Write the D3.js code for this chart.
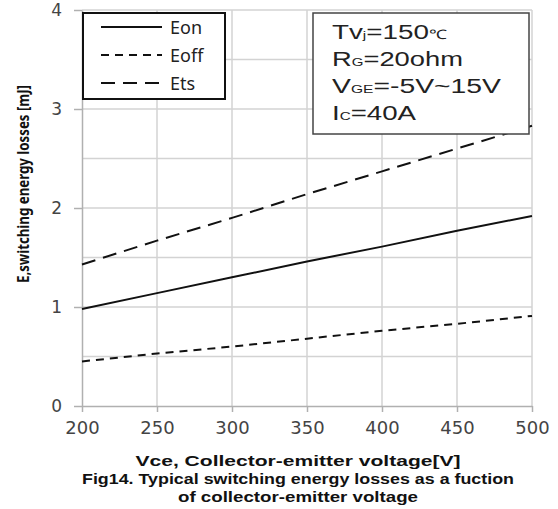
<!DOCTYPE html>
<html>
<head>
<meta charset="utf-8">
<script src="https://cdn.jsdelivr.net/npm/d3@7"></script>
<style>
  html, body { margin: 0; padding: 0; background: #fff; }
  svg { display: block; }
</style>
</head>
<body>
<svg id="chart" width="558" height="509"></svg>
<script>
// Collector-emitter voltage [V]
const voltages = [200, 250, 300, 350, 400, 450, 500];
// Switching energy losses [mJ]
const eon  = [0.98, 1.14, 1.30, 1.46, 1.61, 1.77, 1.92];
const eoff = [0.45, 0.53, 0.60, 0.68, 0.76, 0.83, 0.91];
const ets  = [1.43, 1.67, 1.90, 2.14, 2.37, 2.60, 2.83];

const xTicks = [200, 250, 300, 350, 400, 450, 500];
const yTicks = [0, 1, 2, 3, 4];
const yGrid  = [0.5, 1, 1.5, 2, 2.5, 3, 3.5, 4];

const seriesNames = ["Eon", "Eoff", "Ets"];
const seriesValues = [eon, eoff, ets];
const dashes = [null, "8,6", "14,8"];

const svg = d3.select("#chart");

const x = d3.scaleLinear().domain([200, 500]).range([82, 532]);
const y = d3.scaleLinear().domain([0, 4]).range([406, 10]);

// grid
const grid = svg.append("g").attr("stroke", "#d3d3d3").attr("stroke-width", 1.5);
grid.selectAll("line.v").data(xTicks.slice(1)).join("line")
  .attr("class", "v")
  .attr("x1", d => x(d)).attr("x2", d => x(d))
  .attr("y1", y(0)).attr("y2", y(4));
grid.selectAll("line.h").data(yGrid).join("line")
  .attr("class", "h")
  .attr("x1", x(200)).attr("x2", x(500))
  .attr("y1", d => y(d)).attr("y2", d => y(d));

// axes
const xAxis = svg.append("g")
  .attr("transform", `translate(0,${y(0)})`)
  .call(d3.axisBottom(x).tickValues(xTicks).tickFormat(d3.format("d"))
    .tickSize(6).tickSizeOuter(0).tickPadding(7));
const yAxis = svg.append("g")
  .attr("transform", `translate(${x(200)},0)`)
  .call(d3.axisLeft(y).tickValues(yTicks).tickFormat(d3.format("d"))
    .tickSize(8).tickSizeOuter(0).tickPadding(12));

[xAxis, yAxis].forEach(ax => {
  ax.select(".domain").attr("stroke", "#b0b0b0").attr("stroke-width", 1.5);
  ax.selectAll(".tick line").attr("stroke", "#b0b0b0").attr("stroke-width", 1.5);
  ax.selectAll(".tick text")
    .attr("fill", "#444")
    .attr("font-family", "DejaVu Sans, sans-serif")
    .attr("font-size", 18);
});
xAxis.selectAll(".tick text").attr("dy", "0.85em");
yAxis.selectAll(".tick text").attr("font-size", 17);

// curves
const line = d3.line()
  .x((d, i) => x(voltages[i]))
  .y(d => y(d));

svg.append("g").selectAll("path").data(seriesValues).join("path")
  .attr("d", d => line(d))
  .attr("fill", "none")
  .attr("stroke", "#111")
  .attr("stroke-width", 2)
  .attr("stroke-dasharray", (d, i) => dashes[i]);

// legend
const legend = svg.append("g");
legend.append("rect")
  .attr("x", 83).attr("y", 13).attr("width", 142).attr("height", 86)
  .attr("fill", "#fff").attr("stroke", "#111").attr("stroke-width", 2);
const items = legend.selectAll("g.item").data(seriesNames).join("g")
  .attr("class", "item")
  .attr("transform", (d, i) => `translate(0,${27 + i * 28})`);
items.append("line")
  .attr("x1", 101).attr("x2", 162).attr("y1", 0).attr("y2", 0)
  .attr("stroke", "#111").attr("stroke-width", 2)
  .attr("stroke-dasharray", (d, i) => dashes[i]);
items.append("text")
  .attr("x", 170).attr("y", 6.5)
  .attr("font-family", "Noto Sans, sans-serif")
  .attr("font-size", 18)
  .attr("fill", "#222")
  .text(d => d);

// condition box
const cond = svg.append("g");
cond.append("rect")
  .attr("x", 313).attr("y", 13).attr("width", 216).attr("height", 121)
  .attr("fill", "#fff").attr("stroke", "#444").attr("stroke-width", 1.5);

const condLines = [
  { parts: [["Tv", 0], ["j", 1], ["=150", 0], ["℃", 2]], width: 115, base: 39 },
  { parts: [["R", 0], ["G", 1], ["=20ohm", 0]], width: 131, base: 66 },
  { parts: [["V", 0], ["GE", 1], ["=-5V~15V", 0]], width: 169, base: 93 },
  { parts: [["I", 0], ["C", 1], ["=40A", 0]], width: 84, base: 120 }
];
condLines.forEach(l => {
  const t = cond.append("text")
    .attr("x", 332).attr("y", l.base)
    .attr("font-family", "Liberation Sans, Arial, sans-serif")
    .attr("font-size", 20)
    .attr("fill", "#222")
    .attr("textLength", l.width)
    .attr("lengthAdjust", "spacingAndGlyphs");
  l.parts.forEach(([s, k]) => {
    const ts = t.append("tspan").text(s);
    if (k === 1) ts.attr("font-size", 11);
    if (k === 2) ts.attr("font-size", 13);
  });
});

// axis titles and caption
svg.append("text")
  .attr("transform", "translate(29,184) rotate(-90)")
  .attr("text-anchor", "middle")
  .attr("font-family", "Noto Sans, sans-serif")
  .attr("font-weight", "bold")
  .attr("font-size", 16)
  .attr("fill", "#111")
  .attr("textLength", 198)
  .attr("lengthAdjust", "spacingAndGlyphs")
  .text("E,switching energy losses [mJ]");

const caption = [
  { text: "Vce, Collector-emitter voltage[V]", base: 466, width: 325 },
  { text: "Fig14. Typical switching energy losses as a fuction", base: 484, width: 432 },
  { text: "of collector-emitter voltage", base: 502, width: 240 }
];
svg.append("g").selectAll("text").data(caption).join("text")
  .attr("x", 298).attr("y", d => d.base)
  .attr("text-anchor", "middle")
  .attr("font-family", "Liberation Sans, Arial, sans-serif")
  .attr("font-weight", "bold")
  .attr("font-size", 15)
  .attr("fill", "#111")
  .attr("textLength", d => d.width)
  .attr("lengthAdjust", "spacingAndGlyphs")
  .text(d => d.text);
</script>
</body>
</html>
